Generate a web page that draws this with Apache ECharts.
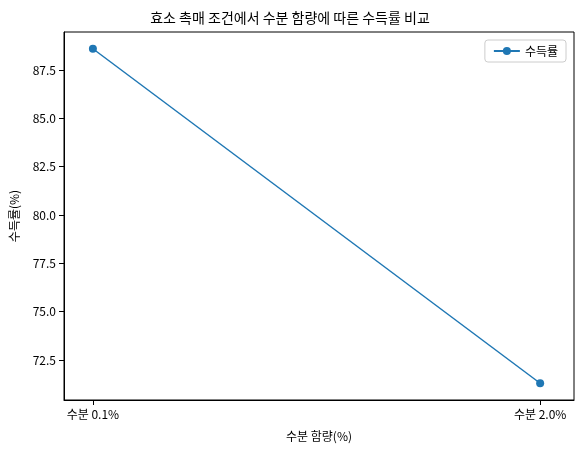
<!DOCTYPE html>
<html><head><meta charset="utf-8">
<script src="https://cdn.jsdelivr.net/npm/echarts@6/dist/echarts.min.js"></script>
<style>body{margin:0}#c{width:580px;height:455px}</style></head>
<body><div id="c"></div>
<script>
const categories = ['수분 0.1%', '수분 2.0%'];
const yieldValues = [88.6, 71.3];
const yTicks = [72.5, 75.0, 77.5, 80.0, 82.5, 85.0, 87.5];
const font = '"Noto Sans CJK KR", "Noto Sans", sans-serif';
const chart = echarts.init(document.getElementById('c'));
const span = yieldValues[0] - yieldValues[1];
chart.setOption({
  animation: false,
  title: {text: '효소 촉매 조건에서 수분 함량에 따른 수득률 비교', left: 'center', top: 6,
    textStyle: {fontFamily: font, fontSize: 14, fontWeight: 'normal', color: '#000'}},
  legend: {right: 14, top: 40, data: ['수득률'], itemWidth: 26, itemHeight: 10,
    backgroundColor: '#fff', borderColor: '#ccc', borderWidth: 1, borderRadius: 3, padding: [5, 8],
    textStyle: {fontFamily: font, fontSize: 12, color: '#000'}},
  grid: {left: 62, right: 6, top: 32, bottom: 55, show: true, borderColor: '#000', borderWidth: 1},
  xAxis: {type: 'value', min: -0.0646, max: 1.0757, name: '수분 함량(%)', nameLocation: 'middle', nameGap: 30,
    nameTextStyle: {fontFamily: font, fontSize: 12, color: '#000'},
    axisLine: {onZero: false, lineStyle: {color: '#000'}},
    axisTick: {show: true, customValues: [0, 1], lineStyle: {color: '#000'}},
    axisLabel: {customValues: [0, 1], formatter: v => categories[Math.round(v)], fontFamily: font, fontSize: 12, color: '#000'},
    splitLine: {show: false}},
  yAxis: {type: 'value', min: yieldValues[1] - 0.05 * span, max: yieldValues[0] + 0.05 * span,
    name: '수득률(%)', nameLocation: 'middle', nameGap: 44, nameTextStyle: {fontFamily: font, fontSize: 12, color: '#000'},
    axisLine: {show: true, onZero: false, lineStyle: {color: '#000'}},
    axisTick: {show: true, customValues: yTicks, lineStyle: {color: '#000'}},
    axisLabel: {customValues: yTicks, formatter: v => v.toFixed(1), fontFamily: font, fontSize: 12, color: '#000'},
    splitLine: {show: false}},
  series: [{name: '수득률', type: 'line', data: yieldValues.map((v, i) => [i, v]),
    symbol: 'circle', symbolSize: 8, itemStyle: {color: '#1f77b4'}, lineStyle: {color: '#1f77b4', width: 1.5}}]
});
</script></body></html>
